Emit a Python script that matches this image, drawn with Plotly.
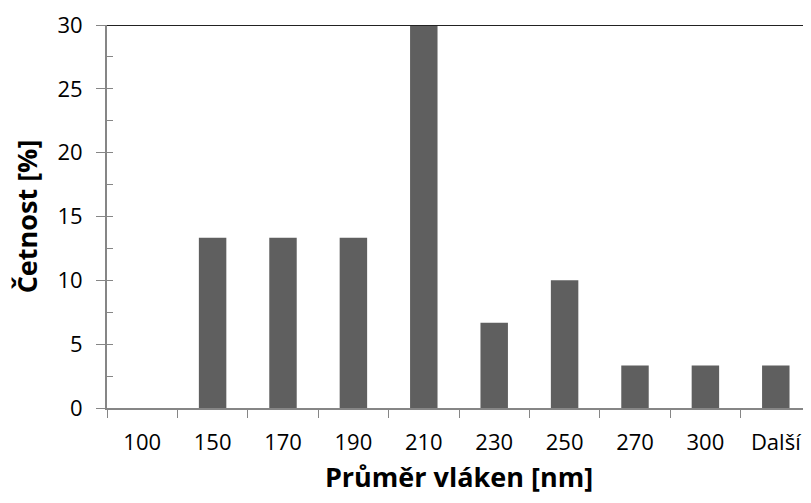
import plotly.graph_objects as go

categories = ["100", "150", "170", "190", "210", "230", "250", "270", "300", "Další"]
cetnost = [0, 13.33, 13.33, 13.33, 30, 6.67, 10, 3.33, 3.33, 3.33]

FONT = "Open Sans"
AXIS_GRAY = "#868686"

fig = go.Figure(
    go.Bar(
        x=categories,
        y=cetnost,
        marker=dict(color="#5f5f5f", line=dict(width=0)),
        width=0.39,
    )
)

# page body has an 8px margin, so the figure is shrunk and shifted by that much
fig.update_layout(
    width=803,
    height=487,
    margin=dict(l=99, r=0, t=17, b=87),
    paper_bgcolor="white",
    plot_bgcolor="white",
    showlegend=False,
    font=dict(family=FONT, size=22, color="black"),
)

fig.update_xaxes(
    type="category",
    range=[-0.5, 9.5],
    showline=True,
    linecolor=AXIS_GRAY,
    linewidth=2,
    ticks="outside",
    tickson="boundaries",
    ticklen=8,
    tickcolor=AXIS_GRAY,
    showgrid=False,
    ticklabelstandoff=14,
    title=dict(text="<b>Průměr vláken [nm]</b>", font=dict(size=27), standoff=18),
)

fig.update_yaxes(
    range=[0, 30],
    dtick=5,
    showline=True,
    linecolor=AXIS_GRAY,
    linewidth=2,
    ticks="outside",
    ticklen=9,
    tickcolor=AXIS_GRAY,
    minor=dict(dtick=2.5, ticks="inside", ticklen=6, tickcolor=AXIS_GRAY, showgrid=False),
    showgrid=False,
    zeroline=False,
    ticklabelstandoff=9,
    title=dict(text="<b>Četnost [%]</b>", font=dict(size=27), standoff=16),
)

# dark line across the top of the plot area (30 % gridline)
fig.add_shape(type="line", xref="paper", yref="y", x0=0, x1=1, y0=30, y1=30,
              line=dict(color="#222222", width=2))

fig.write_html("out.html")
